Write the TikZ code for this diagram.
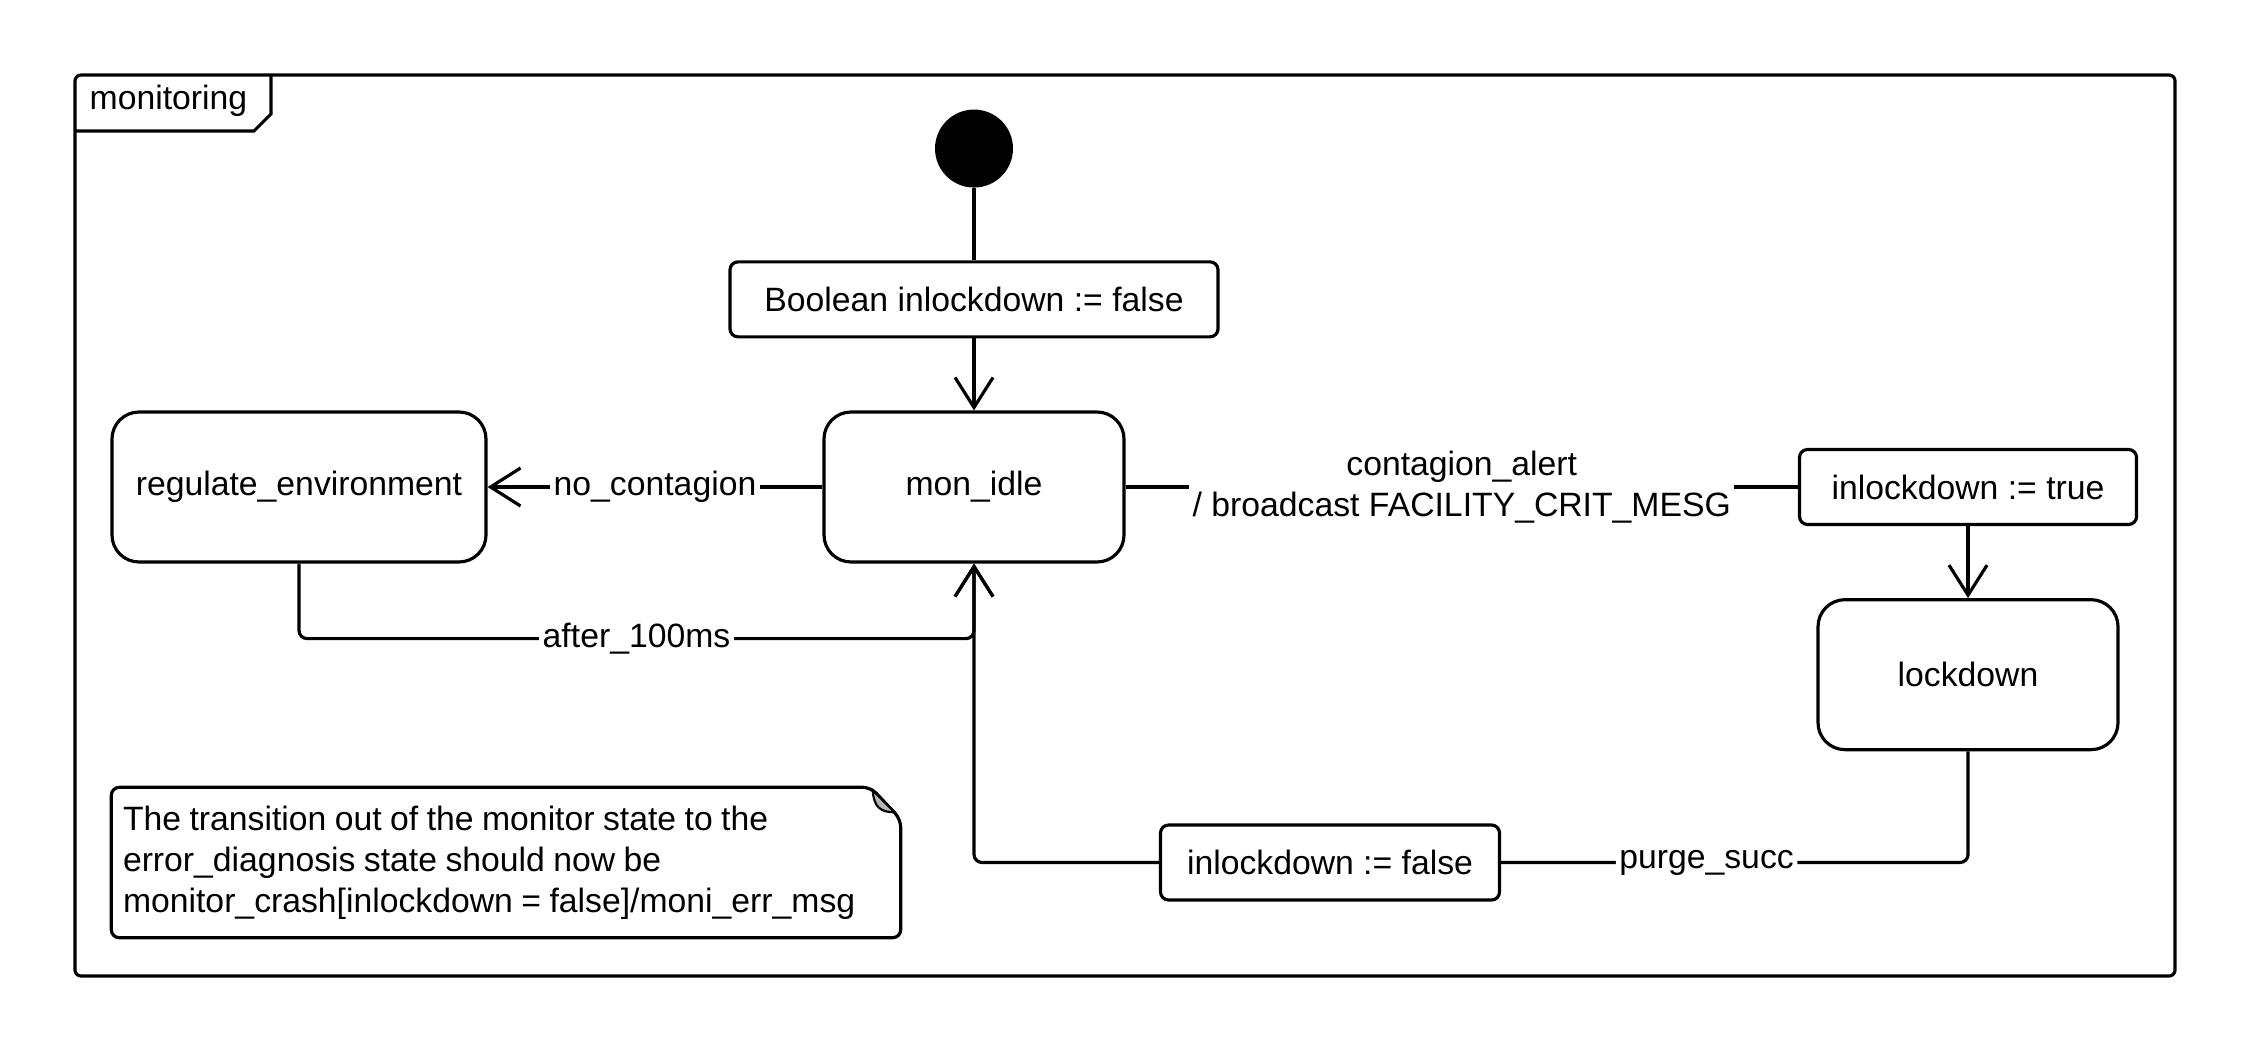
\documentclass[tikz,border=0pt]{standalone}
\usepackage{fontspec}
\setmainfont{Liberation Sans}
\usetikzlibrary{arrows.meta,positioning,calc}
\definecolor{ink}{HTML}{000000}
\definecolor{foldgray}{HTML}{B4B4B4}
\tikzset{
  statebox/.style={draw=ink, rounded corners=0.27cm, line width=0.9pt, align=center,
    minimum height=1.5cm, minimum width=3cm, fill=white},
  actbox/.style={draw=ink, rounded corners=0.08cm, line width=0.9pt,
    minimum height=0.75cm, fill=white},
  initdot/.style={circle, fill=ink, minimum size=0.78cm, inner sep=0pt},
  arr/.style={-{Straight Barb[length=0.3cm, width=0.38cm]}, line width=0.9pt, draw=ink},
  plainline/.style={line width=0.9pt, draw=ink},
  lbl/.style={fill=white, inner sep=1pt}
}

\begin{document}
\begin{tikzpicture}[node distance=0.72cm, font=\fontsize{9.6}{11.6}\selectfont]
  \useasboundingbox (0,0) rectangle (22.5,10.5);
  % frame and tab
  \draw[plainline, rounded corners=0.06cm] (0.75,0.74) rectangle (21.75,9.75);
  \draw[plainline] (0.75,9.19) -- (2.54,9.19) -- (2.71,9.36) -- (2.71,9.75);
  \node[anchor=west, inner sep=0.07cm] (frametitle) at (0.82,9.49) {monitoring};

  % states
  \node[statebox] (idle) at (9.74,5.63) {mon\_idle};
  \node[actbox, minimum width=4.88cm, above=of idle] (init) {Boolean inlockdown := false};
  \node[initdot, above=of init] (start) {};
  \node[statebox, minimum width=3.74cm] (regulate) at (2.99,5.63) {regulate\_environment};
  \node[actbox, minimum width=3.37cm] (settrue) at (19.68,5.63) {inlockdown := true};
  \node[statebox, below=of settrue] (lockdown) {lockdown};
  \node[actbox, minimum width=3.39cm] (setfalse) at (13.30,1.875) {inlockdown := false};

  % note
  \node[text width=7.66cm, inner xsep=0.11cm, minimum height=1.49cm, align=left] (note) at (5.06,1.875)
    {\spaceskip=0.25em\relax The transition out of the monitor state to the\\error\_diagnosis state should now be\\monitor\_crash[inlockdown = false]/moni\_err\_msg};
  \draw[plainline, rounded corners=0.08cm] ($(note.north east)+(-0.3,0)$) -- (note.north west)
    -- (note.south west) -- (note.south east) -- ($(note.north east)+(0,-0.32)$) -- cycle;
  \filldraw[line width=0.6pt, draw=ink, fill=foldgray] ($(note.north east)+(-0.28,-0.03)$)
    .. controls ($(note.north east)+(-0.27,-0.2)$) and ($(note.north east)+(-0.2,-0.25)$) .. ($(note.north east)+(-0.06,-0.25)$) -- cycle;

  % transitions
  \draw[plainline] (start) -- (init);
  \draw[arr] (init) -- (idle);
  \draw[arr] (idle) -- node[lbl] {no\_contagion} (regulate);
  \draw[arr, rounded corners=0.08cm] (regulate.south) |- node[lbl, pos=0.75] {after\_100ms} ($(idle.south)+(0,-0.75)$) -- (idle.south);
  \draw[plainline] (idle) -- node[lbl, align=center, inner ysep=0pt] {contagion\_alert\\/ broadcast FACILITY\_CRIT\_MESG} (settrue);
  \draw[arr] (settrue) -- (lockdown);
  \draw[plainline, rounded corners=0.08cm] (lockdown.south) |- node[lbl, pos=0.78] {purge\_succ} (setfalse.east);
  \draw[arr, rounded corners=0.08cm] (setfalse.west) -| (idle.south);
\end{tikzpicture}
\end{document}
